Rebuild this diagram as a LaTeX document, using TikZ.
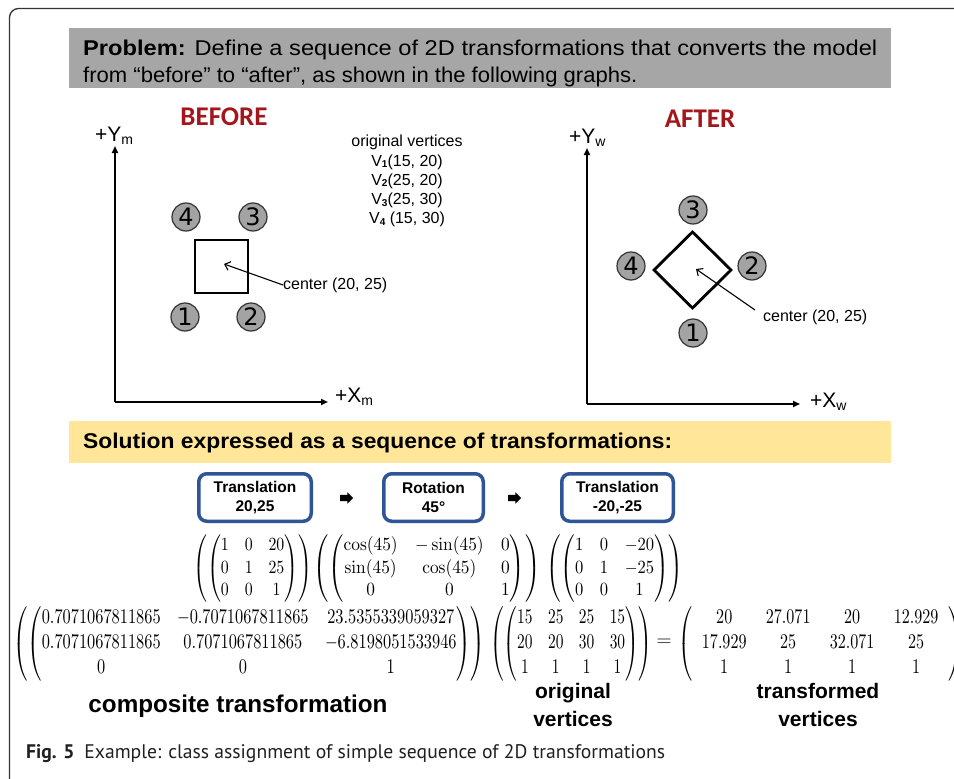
\documentclass[tikz,border=0pt]{standalone}
\usepackage{amsmath}
\usepackage[no-math]{fontspec}
\usepackage{graphicx}
\setmainfont{Liberation Sans}
\newfontfamily\circfont{DejaVu Sans}
\newfontfamily\headfont{Carlito}
\newfontfamily\capfont{PT Sans}
\usetikzlibrary{arrows.meta,shapes.arrows}

\definecolor{probgray}{HTML}{A6A6A6}
\definecolor{solyellow}{HTML}{FFE699}
\definecolor{boxblue}{HTML}{2F5597}
\definecolor{headred}{HTML}{A3161C}
\definecolor{framegray}{HTML}{333333}
\definecolor{dotgray}{HTML}{A3A3A3}
\definecolor{captext}{HTML}{231F20}

\newcommand\vsub[1]{\raisebox{-1.5pt}{\fontsize{10}{10}\selectfont\bfseries #1}}
\newcommand\axsub[1]{\raisebox{-3pt}{\fontsize{14}{14}\selectfont #1}}

\begin{document}
\begin{tikzpicture}[x=1pt,y=-1pt,
  axisline/.style={line width=1.8pt,-{Triangle[length=7pt,width=6pt]}},
  vertexdot/.style={circle,draw=black!80,line width=1.2pt,fill=dotgray,
    minimum size=28pt,inner sep=0pt,font=\circfont\fontsize{24}{24}\selectfont},
  outline/.style={line width=2.8pt,line join=miter},
  pointer/.style={line width=1.1pt,-{Straight Barb[length=5pt,width=9pt]}},
  axlabel/.style={anchor=base west,inner sep=0pt,font=\fontsize{21}{21}\selectfont},
  headlbl/.style={anchor=base,inner sep=0pt,text=headred,font=\headfont\bfseries\fontsize{27}{27}\selectfont},
  smalltext/.style={inner sep=0pt,font=\fontsize{16}{19.3}\selectfont},
  stepbox/.style={draw=boxblue,line width=3.5pt,rounded corners=8pt,fill=white,
    minimum height=47.5pt,align=center,inner sep=0pt,
    font=\bfseries\fontsize{15.5}{19}\selectfont},
  seqarrow/.style={single arrow,fill=black,draw=none,minimum height=13pt,
    inner xsep=0pt,inner ysep=3pt,single arrow head extend=2.5pt},
  mat/.style={anchor=north west,inner sep=0pt},
  biglbl/.style={inner sep=0pt,align=center,font=\bfseries\fontsize{21}{28}\selectfont}
]
\useasboundingbox (0,0) rectangle (954,779);
\fill[white] (0,0) rectangle (954,779);

% outer frame
\draw[framegray,line width=1.3pt,rounded corners=9pt] (9.5,800) -- (9.5,8.5) -- (980,8.5);

% problem statement
\fill[probgray] (69,28) rectangle (891,88);
\node[anchor=base west,inner sep=0pt] (prob1) at (83,55)
  {\resizebox{794pt}{15.5pt}{\textbf{Problem:} Define a sequence of 2D transformations that converts the model}};
\node[anchor=base west,inner sep=0pt] (prob2) at (83,82)
  {\resizebox{554pt}{15.5pt}{from “before” to “after”, as shown in the following graphs.}};

% ---------- BEFORE ----------
\node[headlbl] (before) at (224,125) {BEFORE};
\coordinate (o1) at (115,402);
\coordinate (y1) at (115,146);
\coordinate (x1) at (328,402);
\draw[axisline] (o1) -- (y1);
\draw[axisline] (o1) -- (x1);
\node[axlabel] (ym) at (95,141) {+Y\axsub{m}};
\node[axlabel] (xm) at (335,402) {+X\axsub{m}};

\node[smalltext,align=center,anchor=north] (orig) at (407,135)
  {original vertices\\ V\vsub{1}(15, 20)\\ V\vsub{2}(25, 20)\\ V\vsub{3}(25, 30)\\ V\vsub{4} (15, 30)};

\draw[outline] (195,240) rectangle (248,293);
\coordinate (c1) at (224,264);
\node[vertexdot] (b4) at (186,217) {4};
\node[vertexdot] (b3) at (253,217) {3};
\node[vertexdot] (b1) at (185,317) {1};
\node[vertexdot] (b2) at (251,317) {2};
\node[smalltext,anchor=west] (cl1) at (283,285) {center (20, 25)};
\draw[pointer] (cl1.west) -- (c1);

% ---------- AFTER ----------
\node[headlbl] (after) at (700,127) {AFTER};
\coordinate (o2) at (587,404);
\coordinate (y2) at (587,148);
\coordinate (x2) at (800,404);
\draw[axisline] (o2) -- (y2);
\draw[axisline] (o2) -- (x2);
\node[axlabel] (yw) at (569,143) {+Y\axsub{w}};
\node[axlabel] (xw) at (810,407) {+X\axsub{w}};

\draw[outline] (692.5,232) -- (731,270) -- (692.5,308) -- (654,270) -- cycle;
\coordinate (c2) at (696,269);
\node[vertexdot] (a3) at (693,210) {3};
\node[vertexdot] (a4) at (631,266) {4};
\node[vertexdot] (a2) at (752,266) {2};
\node[vertexdot] (a1) at (693,333) {1};
\node[smalltext,anchor=west] (cl2) at (763,317) {center (20, 25)};
\coordinate (cs2) at (755,310);
\draw[pointer] (cs2) -- (c2);

% ---------- solution ----------
\fill[solyellow] (69,421) rectangle (891,463);
\node[anchor=base west,inner sep=0pt] (sol) at (83,448)
  {\resizebox{589pt}{15.5pt}{\bfseries Solution expressed as a sequence of transformations:}};

\node[stepbox,minimum width=112.5pt] (s1) at (255,497.5) {Translation\\20,25};
\node[stepbox,minimum width=99.5pt] (s2) at (433.5,497.5) {Rotation\\45°};
\node[stepbox,minimum width=111.5pt] (s3) at (617.5,497.5) {Translation\\-20,-25};
\node[seqarrow] (ar1) at (345,498) {};
\node[seqarrow] (ar2) at (513,498) {};

% matrices of the three steps
\node[mat] (m1) at (193,535)
  {\resizebox*{119pt}{67pt}{$\left(\begin{pmatrix}1&0&20\\0&1&25\\0&0&1\end{pmatrix}\right)$}};
\node[mat] (m2) at (313,535)
  {\resizebox*{227pt}{67pt}{$\left(\begin{pmatrix}\cos(45)&-\sin(45)&0\\\sin(45)&\cos(45)&0\\0&0&1\end{pmatrix}\right)$}};
\node[mat] (m3) at (546,535)
  {\resizebox*{137pt}{67pt}{$\left(\begin{pmatrix}1&0&-20\\0&1&-25\\0&0&1\end{pmatrix}\right)$}};

% composite product
\node[mat] (mc) at (13,606)
  {\resizebox*{472pt}{75pt}{$\left(\begin{pmatrix}0.7071067811865&-0.7071067811865&23.5355339059327\\0.7071067811865&0.7071067811865&-6.8198051533946\\0&0&1\end{pmatrix}\right)$}};
\node[mat] (mv) at (490,606)
  {\resizebox*{162pt}{75pt}{$\left(\begin{pmatrix}15&25&25&15\\20&20&30&30\\1&1&1&1\end{pmatrix}\right)$}};
\node[inner sep=0pt,font=\fontsize{22}{22}\selectfont] (eq) at (664,643) {$=$};
\node[mat] (mt) at (678,606)
  {\resizebox*{284pt}{75pt}{\arraycolsep=6pt$\left(\begin{array}{cccc}20&27.071&20&12.929\\17.929&25&32.071&25\\1&1&1&1\end{array}\right)$}};

\node[anchor=base,inner sep=0pt] (complbl) at (238,712)
  {\resizebox{299pt}{!}{\bfseries\fontsize{21}{21}\selectfont composite transformation}};
\node[biglbl,anchor=base] (origlbl) at (573,726) {original\\vertices};
\node[biglbl,anchor=base] (translbl) at (818,726) {transformed\\vertices};

% caption
\node[anchor=base west,inner sep=0pt,text=captext] (cap) at (26,758)
  {\resizebox{639pt}{!}{\capfont\fontsize{20}{20}\selectfont\textbf{Fig. 5}\hspace{0.5em}Example: class assignment of simple sequence of 2D transformations}};
\end{tikzpicture}
\end{document}
